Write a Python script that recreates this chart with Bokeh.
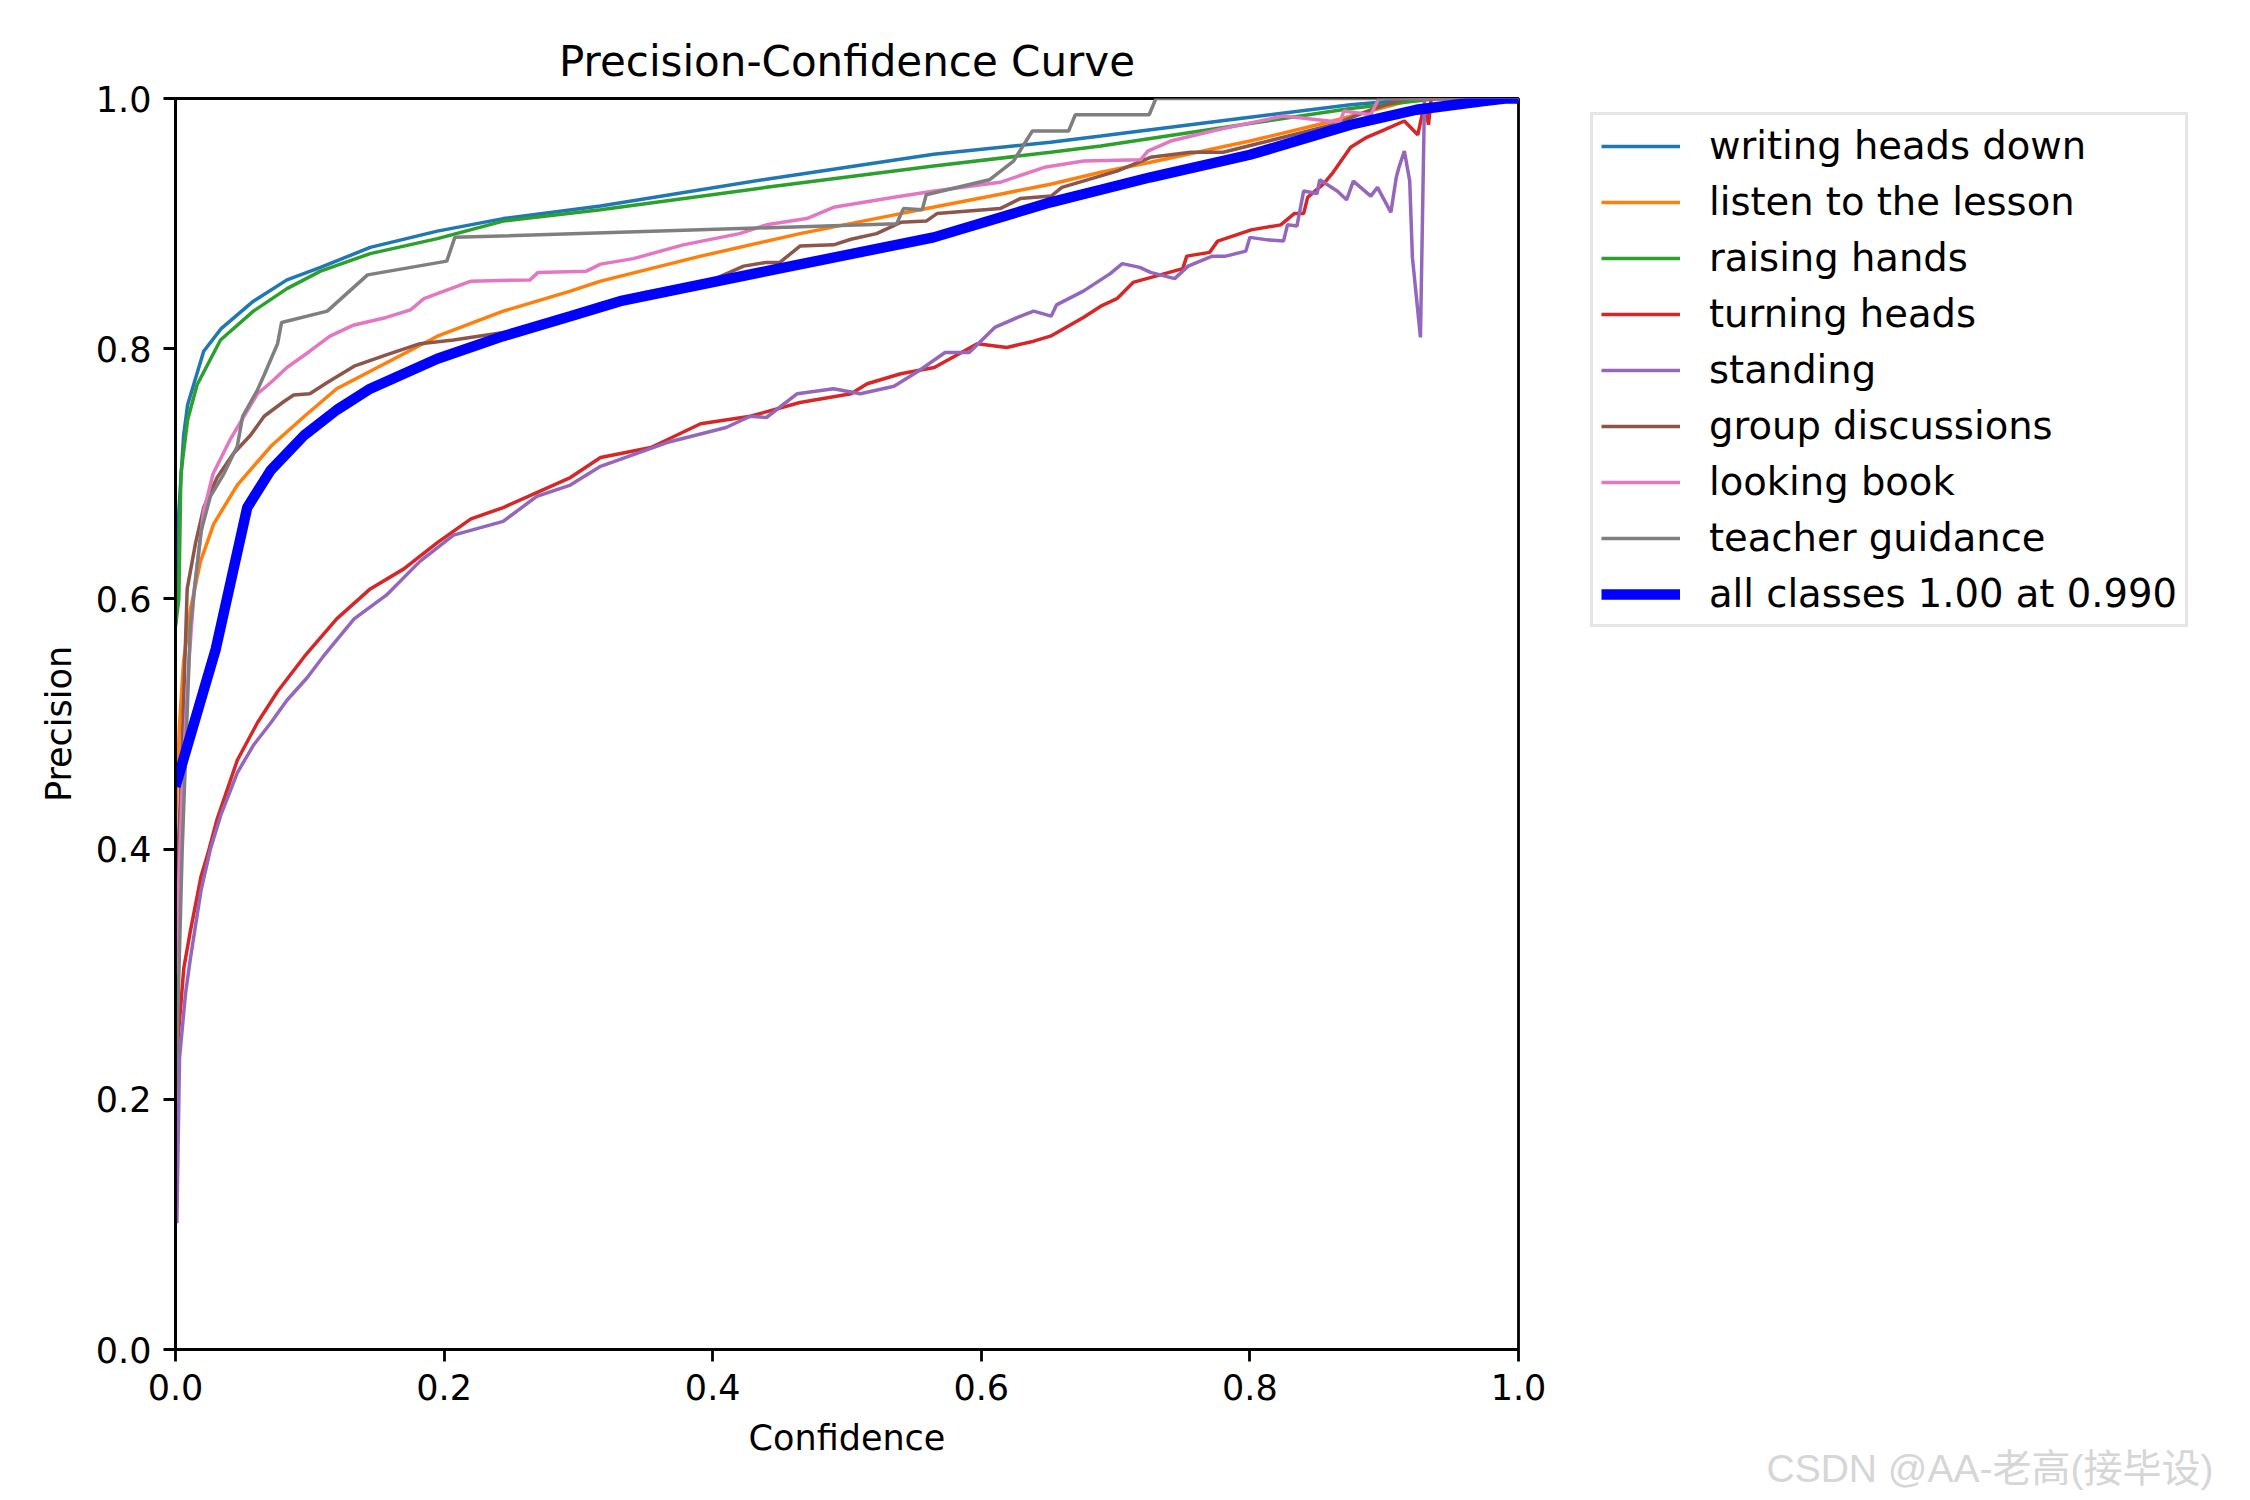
from bokeh.plotting import figure
from bokeh.models import Range1d, FixedTicker, NumeralTickFormatter, Legend, LegendItem, Title
from bokeh.embed import file_html
from bokeh.resources import INLINE

title_text = "Precision-Confidence Curve"
x_label = "Confidence"
y_label = "Precision"
x_ticks = [0.0, 0.2, 0.4, 0.6, 0.8, 1.0]
y_ticks = [0.0, 0.2, 0.4, 0.6, 0.8, 1.0]

class_names = ["writing heads down", "listen to the lesson", "raising hands", "turning heads",
               "standing", "group discussions", "looking book", "teacher guidance"]
class_colors = ["#1f77b4", "#ff7f0e", "#2ca02c", "#d62728", "#9467bd", "#8c564b", "#e377c2", "#7f7f7f"]
all_label = "all classes 1.00 at 0.990"

writing_heads_down = [(0.0, 0.58), (0.0025, 0.67), (0.006, 0.73), (0.009, 0.755), (0.014, 0.773),
    (0.021, 0.798), (0.034, 0.816), (0.058, 0.838), (0.083, 0.855), (0.108, 0.865), (0.145, 0.881),
    (0.195, 0.894), (0.244, 0.904), (0.3165, 0.914), (0.44, 0.9355), (0.5645, 0.9555), (0.6515, 0.965),
    (0.689, 0.970), (0.726, 0.975), (0.80, 0.985), (0.875, 0.995), (0.93, 1.0), (1.0, 1.0)]

listen_to_the_lesson = [(0.0, 0.42), (0.003, 0.50), (0.006, 0.55), (0.0112, 0.592), (0.0186, 0.630),
    (0.0285, 0.660), (0.046, 0.691), (0.071, 0.722), (0.096, 0.746), (0.12, 0.768), (0.145, 0.782),
    (0.195, 0.810), (0.244, 0.830), (0.294, 0.846), (0.3165, 0.854), (0.391, 0.874), (0.465, 0.892),
    (0.54, 0.908), (0.614, 0.9235), (0.6515, 0.9315), (0.689, 0.941), (0.726, 0.949), (0.80, 0.966),
    (0.862, 0.982), (0.90, 0.993), (0.924, 1.0), (1.0, 1.0)]

raising_hands = [(0.0, 0.578), (0.0025, 0.60), (0.004, 0.70), (0.009, 0.743), (0.016, 0.771),
    (0.0335, 0.807), (0.058, 0.830), (0.083, 0.848), (0.108, 0.862), (0.145, 0.876), (0.195, 0.888),
    (0.244, 0.902), (0.3165, 0.911), (0.44, 0.929), (0.5645, 0.946), (0.6515, 0.957), (0.689, 0.962),
    (0.726, 0.968), (0.80, 0.980), (0.875, 0.992), (0.94, 1.0), (1.0, 1.0)]

turning_heads = [(0.0, 0.20), (0.002, 0.25), (0.0062, 0.305), (0.011, 0.334), (0.019, 0.378),
    (0.024, 0.396), (0.031, 0.424), (0.046, 0.471), (0.061, 0.501), (0.076, 0.526), (0.096, 0.554),
    (0.12, 0.584), (0.145, 0.608), (0.17, 0.624), (0.195, 0.645), (0.22, 0.664), (0.244, 0.673),
    (0.269, 0.685), (0.294, 0.697), (0.3165, 0.713), (0.354, 0.721), (0.391, 0.740), (0.428, 0.746),
    (0.465, 0.757), (0.503, 0.764), (0.515, 0.772), (0.54, 0.780), (0.565, 0.785), (0.597, 0.804),
    (0.619, 0.801), (0.639, 0.806), (0.6515, 0.810), (0.676, 0.825), (0.689, 0.834), (0.701, 0.840),
    (0.713, 0.853), (0.75, 0.864), (0.753, 0.874), (0.77, 0.877), (0.776, 0.886), (0.801, 0.895),
    (0.823, 0.899), (0.833, 0.908), (0.84, 0.908), (0.843, 0.921), (0.855, 0.932), (0.862, 0.941),
    (0.875, 0.961), (0.887, 0.969), (0.90, 0.975), (0.915, 0.982), (0.925, 0.971), (0.93, 0.996),
    (0.933, 0.979), (0.935, 1.0), (1.0, 1.0)]

standing = [(0.001, 0.101), (0.003, 0.233), (0.0074, 0.284), (0.011, 0.312), (0.019, 0.367),
    (0.026, 0.400), (0.034, 0.428), (0.046, 0.461), (0.058, 0.483), (0.071, 0.501), (0.083, 0.519),
    (0.098, 0.537), (0.11, 0.554), (0.133, 0.584), (0.157, 0.603), (0.182, 0.630), (0.207, 0.651),
    (0.244, 0.662), (0.269, 0.682), (0.294, 0.691), (0.3165, 0.706), (0.366, 0.725), (0.41, 0.737),
    (0.428, 0.746), (0.44, 0.745), (0.463, 0.764), (0.49, 0.768), (0.51, 0.764), (0.535, 0.770),
    (0.553, 0.782), (0.573, 0.797), (0.591, 0.797), (0.61, 0.817), (0.627, 0.825), (0.639, 0.830),
    (0.652, 0.826), (0.656, 0.835), (0.676, 0.846), (0.696, 0.860), (0.705, 0.868), (0.718, 0.865),
    (0.726, 0.861), (0.744, 0.856), (0.754, 0.866), (0.772, 0.874), (0.782, 0.874), (0.797, 0.878),
    (0.80, 0.889), (0.813, 0.887), (0.825, 0.886), (0.828, 0.899), (0.835, 0.898), (0.84, 0.926),
    (0.85, 0.924), (0.852, 0.935), (0.865, 0.926), (0.872, 0.919), (0.877, 0.934), (0.89, 0.922),
    (0.895, 0.929), (0.905, 0.909), (0.909, 0.937), (0.911, 0.945), (0.915, 0.958), (0.919, 0.934),
    (0.921, 0.873), (0.927, 0.809), (0.93, 1.0), (1.0, 1.0)]

group_discussions = [(0.0, 0.35), (0.004, 0.45), (0.0087, 0.608), (0.015, 0.645), (0.021, 0.673),
    (0.031, 0.697), (0.043, 0.716), (0.056, 0.731), (0.066, 0.746), (0.081, 0.758), (0.088, 0.763),
    (0.10, 0.764), (0.113, 0.773), (0.133, 0.786), (0.157, 0.795), (0.182, 0.804), (0.207, 0.807),
    (0.257, 0.815), (0.284, 0.822), (0.3165, 0.836), (0.35, 0.845), (0.40, 0.855), (0.423, 0.866),
    (0.44, 0.869), (0.45, 0.869), (0.465, 0.882), (0.49, 0.883), (0.503, 0.8875), (0.522, 0.892),
    (0.54, 0.901), (0.559, 0.902), (0.567, 0.908), (0.614, 0.912), (0.629, 0.920), (0.652, 0.922),
    (0.66, 0.929), (0.701, 0.942), (0.726, 0.953), (0.756, 0.957), (0.78, 0.957), (0.81, 0.965),
    (0.862, 0.979), (0.89, 0.991), (0.91, 0.998), (0.92, 1.0), (1.0, 1.0)]

looking_book = [(0.0, 0.30), (0.005, 0.45), (0.01, 0.55), (0.014, 0.608), (0.021, 0.670), (0.028, 0.700),
    (0.041, 0.728), (0.051, 0.746), (0.061, 0.764), (0.071, 0.773), (0.083, 0.785), (0.10, 0.798),
    (0.115, 0.810), (0.133, 0.819), (0.157, 0.825), (0.175, 0.831), (0.185, 0.840), (0.22, 0.854),
    (0.264, 0.855), (0.27, 0.861), (0.306, 0.862), (0.3165, 0.8676), (0.341, 0.872), (0.378, 0.883),
    (0.42, 0.892), (0.44, 0.899), (0.47, 0.904), (0.49, 0.913), (0.535, 0.921), (0.565, 0.926),
    (0.614, 0.933), (0.647, 0.945), (0.6763, 0.950), (0.7185, 0.951), (0.724, 0.958), (0.741, 0.966),
    (0.776, 0.975), (0.825, 0.986), (0.867, 0.981), (0.87, 0.990), (0.89, 0.987), (0.896, 1.0), (1.0, 1.0)]

teacher_guidance = [(0.0, 0.20), (0.005, 0.40), (0.011, 0.578), (0.019, 0.654), (0.026, 0.682),
    (0.036, 0.700), (0.046, 0.722), (0.05, 0.746), (0.061, 0.767), (0.066, 0.779), (0.076, 0.804),
    (0.079, 0.821), (0.113, 0.830), (0.143, 0.859), (0.202, 0.870), (0.208, 0.889), (0.537, 0.8999),
    (0.542, 0.912), (0.556, 0.911), (0.559, 0.923), (0.606, 0.935), (0.624, 0.950), (0.638, 0.974),
    (0.665, 0.974), (0.670, 0.987), (0.725, 0.987), (0.73, 1.0), (1.0, 1.0)]

all_classes = [(0.0, 0.45), (0.03, 0.56), (0.0534, 0.673), (0.071, 0.703), (0.096, 0.731), (0.12, 0.751),
    (0.145, 0.768), (0.195, 0.792), (0.244, 0.810), (0.294, 0.826), (0.331, 0.838), (0.44, 0.862),
    (0.5645, 0.889), (0.6515, 0.917), (0.689, 0.927), (0.726, 0.937), (0.80, 0.955), (0.875, 0.979),
    (0.924, 0.991), (0.974, 0.998), (0.99, 1.0), (1.0, 1.0)]

class_series = [writing_heads_down, listen_to_the_lesson, raising_hands, turning_heads,
                standing, group_discussions, looking_book, teacher_guidance]

watermark = "CSDN @AA-老高(接毕设)"

FONT = "DejaVu Sans"

p = figure(frame_width=1343, frame_height=1251,
           min_border_left=175, min_border_right=716, min_border_top=98, min_border_bottom=143,
           x_range=Range1d(0, 1), y_range=Range1d(0, 1),
           output_backend="svg", toolbar_location=None, title=title_text)

p.title.text_font = FONT
p.title.text_font_size = "42px"
p.title.text_font_style = "normal"
p.title.text_color = "black"
p.title.align = "center"
p.title.standoff = 25

p.xgrid.visible = False
p.ygrid.visible = False
p.outline_line_color = "black"
p.outline_line_width = 2.8
p.outline_line_alpha = 1.0
p.background_fill_color = "white"
p.border_fill_color = "white"

for ax, ticks, lab in ((p.xaxis[0], x_ticks, x_label), (p.yaxis[0], y_ticks, y_label)):
    ax.ticker = FixedTicker(ticks=ticks)
    ax.formatter = NumeralTickFormatter(format="0.0")
    ax.axis_label = lab
    ax.axis_label_text_font = FONT
    ax.axis_label_text_font_size = "35px"
    ax.axis_label_text_font_style = "normal"
    ax.axis_label_text_color = "black"
    ax.major_label_text_font = FONT
    ax.major_label_text_font_size = "35px"
    ax.major_label_text_color = "black"
    ax.axis_line_width = 2.8
    ax.axis_line_color = "black"
    ax.major_tick_line_width = 2.8
    ax.major_tick_line_color = "black"
    ax.major_tick_out = 12
    ax.major_tick_in = 0
    ax.minor_tick_line_color = None
    ax.major_label_standoff = 12

p.xaxis[0].axis_label_standoff = 15
p.yaxis[0].axis_label_standoff = 14

items = []
for name, color, pts in zip(class_names, class_colors, class_series):
    xs = [a for a, b in pts]
    ys = [b for a, b in pts]
    r = p.line(xs, ys, line_color=color, line_width=3.5)
    items.append(LegendItem(label=name, renderers=[r]))

r_all = p.line([a for a, b in all_classes], [b for a, b in all_classes], line_color="blue", line_width=10.4)
items.append(LegendItem(label=all_label, renderers=[r_all]))

legend = Legend(items=items, location=(72, 722))
legend.label_text_font = FONT
legend.label_text_font_size = "38.5px"
legend.label_text_color = "black"
legend.glyph_width = 79
legend.glyph_height = 38
legend.label_height = 38
legend.label_standoff = 29
legend.spacing = 11
legend.padding = 8
legend.margin = 0
legend.border_line_color = "#cccccc"
legend.border_line_width = 3
legend.background_fill_alpha = 0.8
p.add_layout(legend, "right")

wm = Title(text=watermark, align="left", offset=1591,
           text_font="Liberation Sans, Noto Sans CJK SC", text_font_size="39px",
           text_font_style="normal", text_color="#d6d6d6", standoff=-58)
p.add_layout(wm, "below")

open("out.html", "w").write(file_html(p, INLINE))
